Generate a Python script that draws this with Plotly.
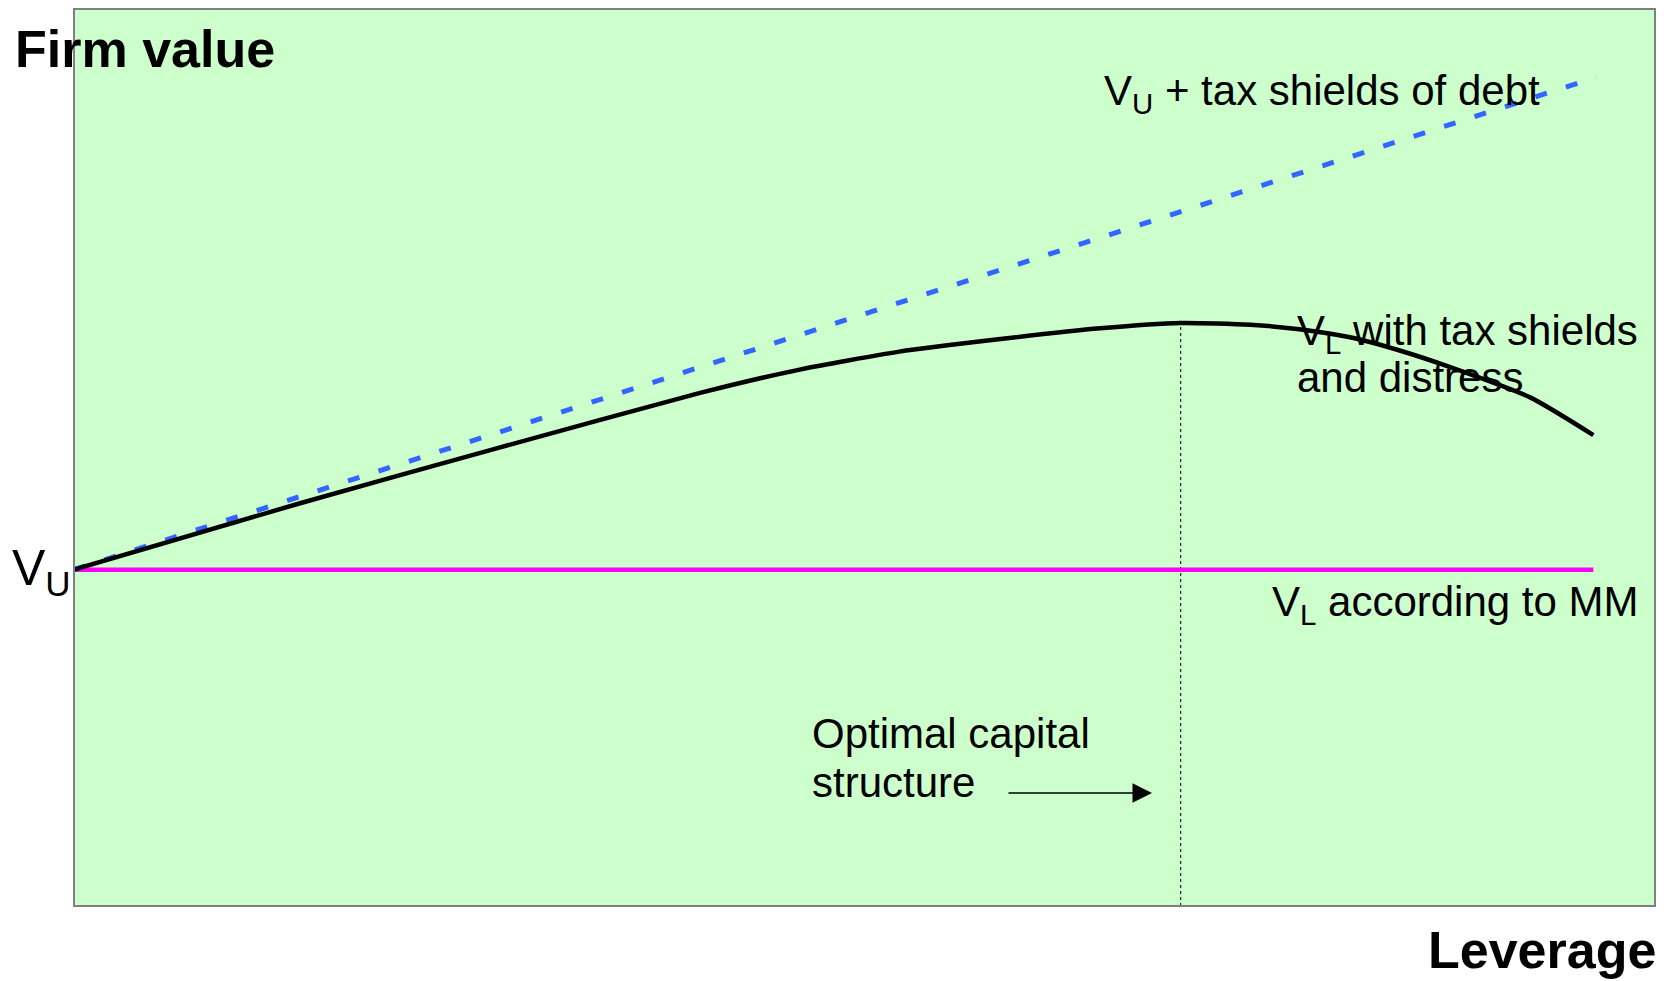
import plotly.graph_objects as go

# Leverage axis positions and firm values for each schedule
leverage_curve = [0, 14.3, 26.9, 39.6, 45.9, 52.2, 58.6, 64.9, 70.0, 74.4, 77.5, 80.7, 83.9, 87.0, 92.1, 96.1]
value_with_distress = [37.5, 44.9, 51.1, 57.2, 59.8, 61.8, 63.2, 64.4, 65.0, 64.8, 64.3, 63.4, 61.9, 60.1, 56.7, 52.5]

leverage_tax = [0, 96.3]
value_tax_shields = [37.5, 92.4]

leverage_mm = [0, 96.1]
value_mm = [37.5, 37.5]

FONT = "Liberation Sans, Arial, sans-serif"
W, H = 1671, 981
L, R, T, B = 74, 16, 9, 75
PW, PH = W - L - R, H - T - B

# peak of the distress curve marks the optimal capital structure
i_opt = value_with_distress.index(max(value_with_distress))
x_opt = leverage_curve[i_opt]
y_opt = value_with_distress[i_opt]


def px(xp):
    return (xp - L) / PW


def py(yp):
    return (H - B - yp) / PH


fig = go.Figure()

fig.add_trace(go.Scatter(
    x=[x_opt, x_opt], y=[0, y_opt], mode="lines",
    line=dict(color="black", width=1, dash="dot"), hoverinfo="skip"))

fig.add_trace(go.Scatter(
    x=leverage_mm, y=value_mm, mode="lines",
    line=dict(color="#FF00FF", width=4.5), hoverinfo="skip"))

fig.add_trace(go.Scatter(
    x=leverage_tax, y=value_tax_shields, mode="lines",
    line=dict(color="#3366FF", width=5, dash="12px,20px"), hoverinfo="skip"))

fig.add_trace(go.Scatter(
    x=leverage_curve, y=value_with_distress, mode="lines",
    line=dict(color="black", width=4.5, shape="spline", smoothing=0.6), hoverinfo="skip"))


def label(text, xl, ymid, size=42, anchor="left", bold=False):
    fig.add_annotation(
        text=f"<b>{text}</b>" if bold else text,
        x=px(xl), y=py(ymid), xref="paper", yref="paper",
        xanchor=anchor, yanchor="middle", showarrow=False,
        borderpad=0, borderwidth=0,
        font=dict(family=FONT, size=size, color="black"))


label("V<sub>U</sub> + tax shields of debt", 1104, 93)
label("V<sub>L</sub> with tax shields", 1297, 333)
label("and distress", 1297, 377)
label("V<sub>L</sub> according to MM", 1272, 604)
label("Optimal capital", 812, 733)
label("structure", 812, 782)
label("Firm value", 15, 49, size=52, bold=True)
label("Leverage", 1656, 950, size=52, anchor="right", bold=True)
label("V<sub>U</sub>", 12, 571, size=50)

# arrow pointing at the optimum line
fig.add_annotation(
    x=px(1152), y=py(793), xref="paper", yref="paper",
    ax=-145, ay=0, text="", showarrow=True,
    arrowhead=2, arrowsize=2.6, arrowwidth=1.5, arrowcolor="black", standoff=0)

# plot frame
fig.add_shape(type="rect", xref="paper", yref="paper", x0=0, y0=0, x1=1, y1=1,
              line=dict(color="#808080", width=2), layer="above")

fig.update_layout(
    width=W, height=H,
    margin=dict(l=L, r=R, t=T, b=B, pad=0),
    paper_bgcolor="white", plot_bgcolor="#CCFFCC",
    showlegend=False,
    xaxis=dict(range=[0, 100], visible=False, fixedrange=True),
    yaxis=dict(range=[0, 100], visible=False, fixedrange=True),
)

fig.write_html("out.html")
